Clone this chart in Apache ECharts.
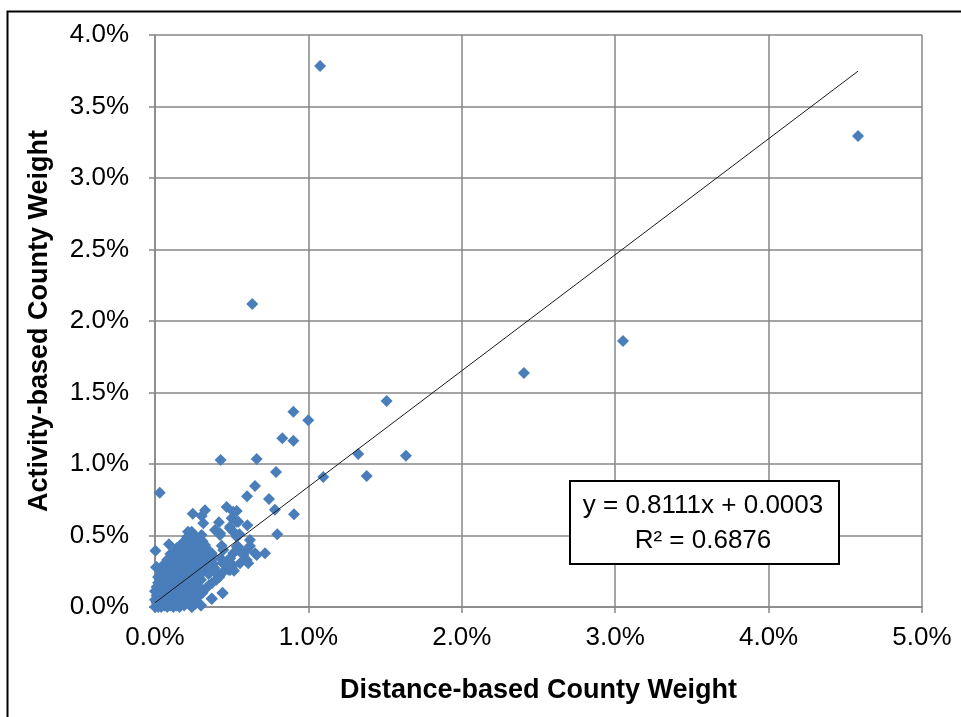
<!DOCTYPE html>
<html>
<head>
<meta charset="utf-8">
<script src="https://cdn.jsdelivr.net/npm/echarts@6/dist/echarts.min.js"></script>
<style>
html,body{margin:0;padding:0;background:#fff;}
#chart{width:961px;height:717px;}
</style>
</head>
<body>
<div id="chart"></div>
<script>
// Values in percent (distance-based weight, activity-based weight)
var outlierPoints = [
  [1.076,3.783],[4.583,3.294],[3.051,1.860],[2.405,1.636],[0.634,2.119],
  [1.510,1.441],[1.325,1.070],[1.636,1.058],[1.380,0.916]
];
var midPoints = [
  [0.902,1.366],[0.999,1.306],[0.830,1.180],[0.902,1.163],[0.428,1.028],[0.663,1.035],
  [0.789,0.944],[1.097,0.909],[0.652,0.846],[0.031,0.799],[0.600,0.774],[0.743,0.755],
  [0.782,0.680],[0.906,0.648],[0.467,0.699],[0.533,0.671],[0.326,0.676],[0.246,0.652],
  [0.417,0.592],[0.602,0.571],[0.489,0.562],[0.315,0.585],[0.797,0.508],[0.215,0.527],
  [0.424,0.503],[0.533,0.503],[0.293,0.469],[0.435,0.429],[0.619,0.469],[0.543,0.422],
  [0.091,0.438],[0.003,0.394],[0.717,0.376],[0.663,0.364],[0.576,0.364],[0.489,0.341],
  [0.370,0.364],[0.554,0.306],[0.608,0.306],[0.456,0.294],[0.515,0.254],[0.007,0.278],
  [0.370,0.056],[0.441,0.096],[0.298,0.014],[0.239,0.002],[0.372,0.168],
  [0.510,0.666],[0.500,0.620],[0.533,0.597],[0.391,0.538],[0.510,0.527],[0.550,0.508],
  [0.533,0.422],[0.619,0.427],[0.315,0.399],[0.510,0.376],[0.304,0.636],[0.543,0.597],
  [0.239,0.527],[0.304,0.503],[0.424,0.515],[0.489,0.550],[0.533,0.492],[0.250,0.457],
  [0.326,0.434],[0.196,0.434],[0.370,0.376],[0.445,0.399],[0.533,0.399],[0.598,0.399],
  [0.652,0.376],[0.489,0.341],[0.598,0.329],[0.489,0.259]
];
var clusterPoints = [
  [0.00,0.00],[0.02,0.00],[0.04,0.00],[0.06,0.01],[0.08,0.00],[0.10,0.01],[0.12,0.00],[0.14,0.01],[0.16,0.00],[0.19,0.01],[0.24,0.00],[0.30,0.01],
  [0.01,0.03],[0.03,0.03],[0.05,0.02],[0.07,0.03],[0.09,0.03],[0.11,0.02],[0.13,0.03],[0.15,0.03],[0.17,0.02],[0.20,0.03],[0.23,0.03],[0.26,0.02],
  [0.00,0.05],[0.02,0.05],[0.04,0.06],[0.06,0.05],[0.08,0.06],[0.10,0.05],[0.12,0.06],[0.14,0.05],[0.16,0.06],[0.18,0.05],[0.21,0.06],[0.25,0.05],[0.28,0.07],[0.37,0.06],
  [0.01,0.08],[0.03,0.08],[0.05,0.09],[0.07,0.08],[0.09,0.09],[0.11,0.08],[0.13,0.09],[0.15,0.08],[0.17,0.09],[0.20,0.08],[0.23,0.09],[0.27,0.08],[0.31,0.10],[0.44,0.10],
  [0.00,0.11],[0.02,0.11],[0.04,0.12],[0.06,0.11],[0.08,0.12],[0.10,0.11],[0.12,0.12],[0.14,0.11],[0.16,0.12],[0.19,0.11],[0.22,0.12],[0.25,0.11],[0.29,0.12],[0.33,0.13],
  [0.01,0.14],[0.03,0.15],[0.05,0.14],[0.07,0.15],[0.09,0.14],[0.11,0.15],[0.13,0.14],[0.15,0.15],[0.17,0.14],[0.20,0.15],[0.24,0.14],[0.28,0.15],[0.35,0.15],
  [0.02,0.17],[0.04,0.18],[0.06,0.17],[0.08,0.18],[0.10,0.17],[0.12,0.18],[0.14,0.17],[0.16,0.18],[0.19,0.17],[0.23,0.18],[0.27,0.17],[0.30,0.19],[0.40,0.19],
  [0.02,0.21],[0.05,0.20],[0.07,0.21],[0.09,0.20],[0.11,0.21],[0.13,0.20],[0.15,0.21],[0.17,0.20],[0.20,0.21],[0.24,0.20],[0.28,0.21],[0.42,0.21],
  [0.04,0.23],[0.06,0.24],[0.08,0.23],[0.10,0.24],[0.12,0.23],[0.14,0.24],[0.16,0.23],[0.19,0.24],[0.22,0.23],[0.26,0.24],[0.30,0.23],[0.35,0.23],[0.40,0.23],[0.45,0.25],
  [0.03,0.26],[0.07,0.27],[0.09,0.26],[0.11,0.27],[0.13,0.26],[0.15,0.27],[0.18,0.26],[0.21,0.27],[0.25,0.26],[0.29,0.27],[0.34,0.26],[0.39,0.27],[0.48,0.26],[0.01,0.28],
  [0.06,0.30],[0.09,0.31],[0.11,0.30],[0.13,0.31],[0.15,0.30],[0.18,0.31],[0.21,0.30],[0.25,0.31],[0.29,0.30],[0.33,0.31],[0.38,0.30],[0.44,0.31],[0.51,0.29],
  [0.08,0.33],[0.11,0.34],[0.14,0.33],[0.17,0.34],[0.20,0.33],[0.24,0.34],[0.28,0.33],[0.32,0.34],[0.37,0.33],[0.43,0.34],
  [0.10,0.37],[0.13,0.38],[0.16,0.37],[0.19,0.38],[0.23,0.37],[0.27,0.38],[0.31,0.37],[0.36,0.38],
  [0.14,0.41],[0.17,0.42],[0.21,0.41],[0.25,0.42],[0.29,0.41],[0.33,0.42],
  [0.18,0.45],[0.22,0.46],[0.26,0.45],[0.31,0.46],
  [0.21,0.49],[0.26,0.50]
];
var trendSlope = 0.8111;       // y = 0.8111x + 0.0003 (fractions)
var trendIntercept = 0.03;     // 0.0003 expressed in percent
var trendRange = [0, 4.583];
var xTitle = 'Distance-based County Weight';
var yTitle = 'Activity-based County Weight';
var eqLine1 = 'y = 0.8111x + 0.0003';
var eqLine2 = 'R² = 0.6876';

var allPoints = clusterPoints.concat(midPoints, outlierPoints);
var trendData = trendRange.map(function (x) { return [x, trendSlope * x + trendIntercept]; });

var FONT = "'Liberation Sans', sans-serif";
var chart = echarts.init(document.getElementById('chart'), null, {renderer: 'canvas'});
chart.setOption({
  animation: false,
  backgroundColor: '#fff',
  grid: {left: 155, right: 39, top: 35, bottom: 110},
  xAxis: {
    type: 'value', min: 0, max: 5, interval: 1,
    name: xTitle, nameLocation: 'middle', nameGap: 70,
    nameTextStyle: {fontFamily: FONT, fontSize: 27, fontWeight: 'bold', color: '#000'},
    axisLine: {show: true, onZero: false, lineStyle: {color: '#878787', width: 1.5}},
    axisTick: {show: true, length: 6, lineStyle: {color: '#878787', width: 1.5}},
    axisLabel: {fontFamily: FONT, fontSize: 26, color: '#000', margin: 18,
      formatter: function (v) { return v.toFixed(1) + '%'; }},
    splitLine: {show: true, lineStyle: {color: '#878787', width: 1.5}}
  },
  yAxis: {
    type: 'value', min: 0, max: 4, interval: 0.5,
    name: yTitle, nameLocation: 'middle', nameGap: 102, nameRotate: 90,
    nameTextStyle: {fontFamily: FONT, fontSize: 27, fontWeight: 'bold', color: '#000'},
    axisLine: {show: true, onZero: false, lineStyle: {color: '#878787', width: 1.5}},
    axisTick: {show: true, length: 6, lineStyle: {color: '#878787', width: 1.5}},
    axisLabel: {fontFamily: FONT, fontSize: 26, color: '#000', margin: 26,
      formatter: function (v) { return v.toFixed(1) + '%'; }},
    splitLine: {show: true, lineStyle: {color: '#878787', width: 1.5}}
  },
  series: [
    {
      type: 'scatter', data: allPoints, symbol: 'diamond', symbolSize: 12,
      itemStyle: {color: '#4a7ebb', opacity: 1}, z: 2
    },
    {
      type: 'line', data: trendData, symbol: 'none',
      lineStyle: {color: '#1a1a1a', width: 1}, z: 3
    }
  ],
  graphic: [
    {type: 'rect', left: 5, top: 9, shape: {width: 1000, height: 800},
      style: {fill: 'none', stroke: '#000', lineWidth: 2}, silent: true, z: 100},
    {type: 'rect', left: 569, top: 480, shape: {width: 269, height: 83},
      style: {fill: '#fff', stroke: '#000', lineWidth: 2}, z: 100},
    {type: 'text', position: [703, 506], style: {text: eqLine1, fontFamily: FONT, fontSize: 26, fill: '#000', textAlign: 'center', textVerticalAlign: 'middle'}, z: 101},
    {type: 'text', position: [703, 541], style: {text: eqLine2, fontFamily: FONT, fontSize: 26, fill: '#000', textAlign: 'center', textVerticalAlign: 'middle'}, z: 101}
  ]
});
</script>
</body>
</html>
